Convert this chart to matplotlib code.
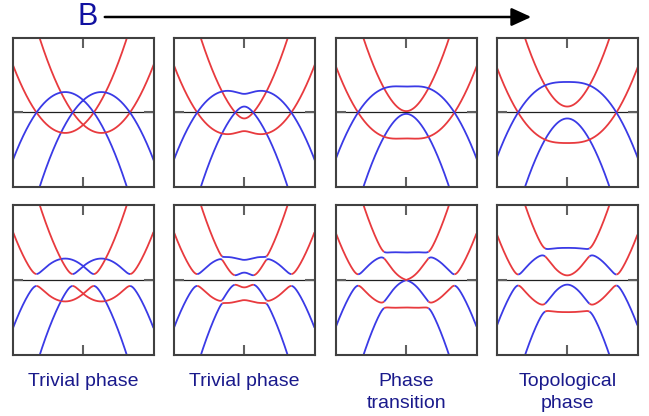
import numpy as np
import matplotlib.pyplot as plt
from matplotlib.patches import FancyArrowPatch

plt.rcParams['font.family'] = ['Liberation Sans', 'DejaVu Sans']

fields = [0.0, 0.085, 0.1834, 0.245]
labels = ['Trivial phase', 'Trivial phase', 'Phase\ntransition', 'Topological\nphase']

# band parameters (energy in units of half the panel height, k in half the width)
mass = 1.65     # xi = mass*k^2 - mu
mu = 0.165
alpha = 0.85    # spin-orbit
gap = 0.08      # pairing, bottom row only

RED = '#e83a3e'
BLUE = '#3a3ae6'
TXT = '#1a1a8c'

k = np.linspace(-1, 1, 1201)
xi = mass * k**2 - mu

W, H = 649, 416
fig = plt.figure(figsize=(W / 100, H / 100), dpi=100)

lefts = [13, 174, 336, 497]
width = 140.5
rows = [(38, 187), (205, 355)]


def frame(ax):
    ax.set_xlim(-1, 1)
    ax.set_ylim(-1, 1)
    ax.axhline(0, color='#202020', lw=0.9, zorder=1)
    ax.set_xticks([0])
    ax.set_yticks([0])
    ax.set_xticklabels([])
    ax.set_yticklabels([])
    ax.tick_params(direction='in', length=7, width=1.5, color='#606060',
                   top=True, bottom=True, left=True, right=True)
    for s in ax.spines.values():
        s.set_color('#404040')
        s.set_linewidth(1.5)


for col, B in enumerate(fields):
    # top row: bare bands, no pairing
    top, bot = rows[0]
    ax = fig.add_axes([lefts[col] / W, (H - bot) / H, width / W, (bot - top) / H])
    frame(ax)
    so = np.sqrt((alpha * k)**2 + B**2)
    for sgn in (1, -1):
        ax.plot(k, xi + sgn * so, color=RED, lw=1.3, zorder=2)
        ax.plot(k, -(xi + sgn * so), color=BLUE, lw=1.3, zorder=2)

    # bottom row: BdG spectrum, coloured by electron weight
    top, bot = rows[1]
    ax = fig.add_axes([lefts[col] / W, (H - bot) / H, width / W, (bot - top) / H])
    frame(ax)
    h = np.zeros((len(k), 4, 4))
    h[:, 0, 0] = xi + alpha * k
    h[:, 1, 1] = xi - alpha * k
    h[:, 2, 2] = -(xi + alpha * k)
    h[:, 3, 3] = -(xi - alpha * k)
    h[:, 0, 1] = h[:, 1, 0] = B
    h[:, 2, 3] = h[:, 3, 2] = B
    h[:, 0, 2] = h[:, 2, 0] = gap
    h[:, 1, 3] = h[:, 3, 1] = gap
    vals, vecs = np.linalg.eigh(h)
    weight = (vecs[:, :2, :]**2).sum(axis=1)
    for j in range(4):
        elec = weight[:, j] > 0.5
        # split the band into runs of one character and draw each run
        cuts = np.flatnonzero(np.diff(elec.astype(int))) + 1
        starts = np.concatenate([[0], cuts])
        ends = np.concatenate([cuts, [len(k)]])
        for s, e in zip(starts, ends):
            e2 = min(e + 1, len(k))
            ax.plot(k[s:e2], vals[s:e2, j], color=RED if elec[s] else BLUE,
                    lw=1.3, zorder=2, solid_capstyle='butt')

    cx = (lefts[col] + width / 2) / W
    fig.text(cx, 1 - 373 / H, labels[col], ha='center', va='top', color=TXT,
             fontsize=14, linespacing=1.38)

fig.text(88 / W, 1 - 17 / H, 'B', ha='center', va='center', color='#1010a0', fontsize=22)
arrow = FancyArrowPatch((102 / W, 1 - 17 / H), (534 / W, 1 - 17 / H),
                        transform=fig.transFigure, arrowstyle='-|>,head_length=1.2,head_width=0.55',
                        mutation_scale=10, color='black', lw=1.8)
fig.add_artist(arrow)

fig.savefig('out.png', dpi=100)
